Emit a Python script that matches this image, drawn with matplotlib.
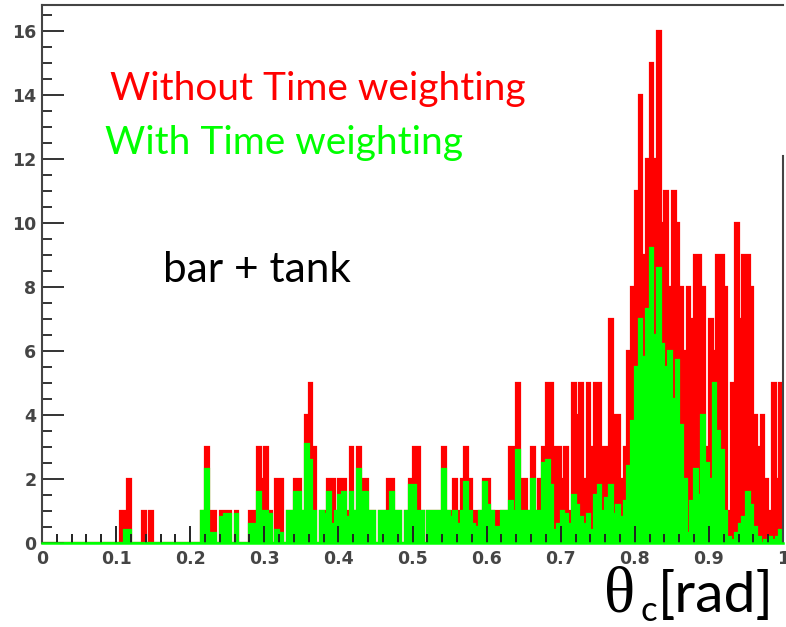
import numpy as np
import matplotlib
matplotlib.use("Agg")
import matplotlib.pyplot as plt
from matplotlib.ticker import MultipleLocator, FormatStrFormatter

# theta_c histogram: 200 bins from 0 to 1 rad
bin_edges = np.linspace(0.0, 1.0, 201)

# counts without time weighting
counts_no_weight = [
    0, 0, 0, 0, 0, 0, 0, 0, 0, 0,
    0, 0, 0, 0, 0, 0, 0, 0, 0, 0,
    0, 1, 1, 2, 0, 0, 0, 1, 0, 1,
    0, 0, 0, 0, 0, 0, 0, 0, 0, 0,
    0, 0, 0, 1, 3, 1, 1, 0, 1, 1,
    1, 0, 1, 0, 0, 0, 1, 1, 3, 2,
    3, 1, 0, 2, 2, 0, 1, 1, 2, 2,
    1, 4, 5, 3, 0, 1, 1, 2, 2, 1,
    2, 2, 1, 3, 1, 3, 2, 2, 1, 1,
    0, 1, 1, 2, 2, 1, 1, 0, 1, 2,
    3, 3, 1, 0, 1, 1, 1, 1, 3, 1,
    1, 2, 1, 2, 3, 2, 1, 1, 1, 2,
    2, 1, 1, 1, 1, 1, 3, 3, 5, 2,
    2, 1, 3, 1, 2, 3, 5, 5, 3, 3,
    2, 3, 1, 5, 4, 5, 2, 5, 3, 5,
    5, 3, 3, 7, 4, 4, 2, 3, 6, 8,
    11, 14, 9, 12, 15, 12, 16, 10, 11, 8,
    11, 10, 8, 6, 8, 7, 9, 9, 8, 3,
    7, 6, 9, 9, 8, 1, 5, 10, 7, 9,
    9, 8, 4, 3, 4, 2, 1, 5, 2, 5,
]

# weighted counts with time weighting
counts_time_weight = [
    0, 0, 0, 0, 0, 0, 0, 0, 0, 0,
    0, 0, 0, 0, 0, 0, 0, 0, 0, 0,
    0, 0, 0.4, 0.4, 0, 0, 0, 0, 0, 0,
    0, 0, 0, 0, 0, 0, 0, 0, 0, 0,
    0, 0, 0, 1.0, 2.3, 0.3, 0.3, 0, 0.8, 0.9,
    0.9, 0, 0.9, 0, 0, 0, 0.6, 0.6, 1.6, 1.0,
    1.0, 0.9, 0, 0.4, 0.3, 0, 1.0, 1.0, 1.6, 1.6,
    1.0, 3.1, 2.6, 1.0, 0, 1.0, 0.9, 1.6, 0.6, 1.0,
    1.5, 1.6, 0.8, 1.6, 1.0, 2.3, 1.6, 1.6, 1.0, 1.0,
    0, 1.0, 1.0, 1.0, 1.6, 1.0, 1.0, 0, 1.0, 1.8,
    1.8, 1.0, 1.0, 0, 1.0, 1.0, 1.0, 1.0, 2.3, 1.0,
    0.8, 1.0, 0.6, 1.0, 1.9, 1.0, 0.6, 0.5, 1.0, 1.9,
    1.2, 1.0, 0.5, 0.5, 1.0, 1.0, 1.3, 1.0, 2.9, 1.0,
    1.0, 1.0, 2.0, 1.0, 1.0, 2.5, 2.6, 1.8, 0.4, 0.6,
    1.0, 0.9, 0.6, 1.5, 1.2, 0.8, 0.6, 0.9, 0.4, 1.5,
    1.8, 1.0, 1.4, 1.8, 0.9, 1.2, 0.8, 1.3, 2.4, 3.8,
    5.5, 7.0, 5.8, 7.3, 9.2, 6.5, 8.6, 6.2, 5.5, 6.0,
    4.5, 5.7, 3.7, 2.0, 0.3, 1.3, 2.3, 1.5, 4.0, 2.5,
    2.0, 5.0, 3.5, 2.9, 1.0, 0.2, 0.1, 0.3, 0.6, 0.8,
    1.6, 1.2, 0.5, 0.2, 0, 0.1, 0.2, 0.1, 0.2, 0.4,
]

W, H = 786, 627
fig = plt.figure(figsize=(W / 100, H / 100), dpi=100)
ax = fig.add_axes([42 / W, 84 / H, 741 / W, 538 / H])

red = "#ff0000"
green = "#00ff00"

# filled histograms, drawn with an outline in the same colour
for counts, col in [(counts_no_weight, red), (counts_time_weight, green)]:
    ax.stairs(counts, bin_edges, color=col, fill=True, baseline=0, lw=0)
    ax.stairs(counts, bin_edges, color=col, linewidth=1.6, baseline=0)

ax.set_xlim(0, 1)
ax.set_ylim(0, 16.8)

# frame
frame_col = "#444444"
for side in ["left", "top"]:
    ax.spines[side].set_color(frame_col)
    ax.spines[side].set_linewidth(1.5)
ax.spines["right"].set_visible(False)
ax.axvline(1.0, ymin=0, ymax=0.72, color=frame_col, lw=1.5, clip_on=False)
ax.spines["bottom"].set_color(green)
ax.spines["bottom"].set_linewidth(1.8)

# ticks pointing inward
ax.xaxis.set_major_locator(MultipleLocator(0.1))
ax.xaxis.set_minor_locator(MultipleLocator(0.02))
ax.yaxis.set_major_locator(MultipleLocator(2))
ax.yaxis.set_minor_locator(MultipleLocator(0.5))
ax.xaxis.set_major_formatter(FormatStrFormatter("%g"))
ax.yaxis.set_major_formatter(FormatStrFormatter("%g"))
ax.tick_params(axis="x", which="major", direction="in", length=12, width=1.4,
               color="#222222", pad=5)
ax.tick_params(axis="x", which="minor", direction="in", length=6.5, width=1.4,
               color="#222222")
ax.tick_params(axis="y", which="major", direction="in", length=16, width=1.4,
               color="#333333", pad=4)
ax.tick_params(axis="y", which="minor", direction="in", length=7.5, width=1.4,
               color="#333333")
for lab in ax.get_xticklabels() + ax.get_yticklabels():
    lab.set_fontfamily("DejaVu Sans")
    lab.set_fontweight("bold")
    lab.set_fontsize(12.5)
    lab.set_color("#454545")

# annotations
txt_font = "Lato"
fig.text(110 / W, 1 - 100 / H, "Without Time weighting", color=red,
         fontsize=28, family=txt_font, va="baseline", ha="left")
fig.text(105 / W, 1 - 154 / H, "With Time weighting", color=green,
         fontsize=28, family=txt_font, va="baseline", ha="left")
fig.text(163 / W, 1 - 282 / H, "bar + tank", color="black",
         fontsize=30.5, family=txt_font, va="baseline", ha="left")

# axis title theta_c [rad]
fig.text(604 / W, 1 - 612 / H, "θ", color="black", fontsize=47,
         family="Liberation Serif", va="baseline", ha="left")
fig.text(640 / W, 1 - 621 / H, "c", color="black", fontsize=25,
         family=txt_font, va="baseline", ha="left")
fig.text(658 / W, 1 - 612 / H, "[rad]", color="black", fontsize=41,
         family=txt_font, va="baseline", ha="left")

fig.savefig("out.png", dpi=100, facecolor="white")
